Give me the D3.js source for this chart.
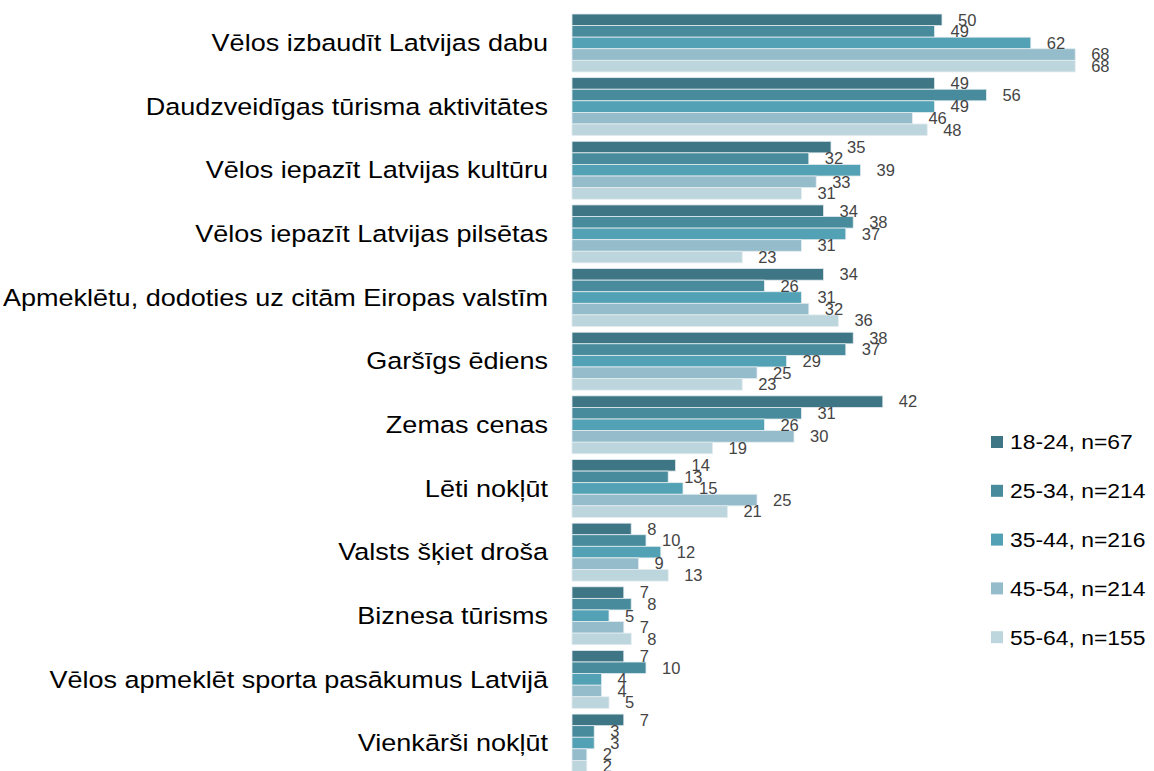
<!DOCTYPE html>
<html>
<head>
<meta charset="utf-8">
<script src="https://cdn.jsdelivr.net/npm/d3@7"></script>
<style>
  html, body { margin: 0; padding: 0; background: #fff; }
  svg { display: block; font-family: "Liberation Sans", Arial, sans-serif; }
</style>
</head>
<body>
<div class="container"></div>
<script>
const w = 1154;
const h = 771;

const categories = [
    'Vēlos izbaudīt Latvijas dabu',
    'Daudzveidīgas tūrisma aktivitātes',
    'Vēlos iepazīt Latvijas kultūru',
    'Vēlos iepazīt Latvijas pilsētas',
    'Apmeklētu, dodoties uz citām Eiropas valstīm',
    'Garšīgs ēdiens',
    'Zemas cenas',
    'Lēti nokļūt',
    'Valsts šķiet droša',
    'Biznesa tūrisms',
    'Vēlos apmeklēt sporta pasākumus Latvijā',
    'Vienkārši nokļūt'
];

const groups = ['18-24, n=67', '25-34, n=214', '35-44, n=216', '45-54, n=214', '55-64, n=155'];

const age18 = [50, 49, 35, 34, 34, 38, 42, 14, 8, 7, 7, 7];
const age25 = [49, 56, 32, 38, 26, 37, 31, 13, 10, 8, 10, 3];
const age35 = [62, 49, 39, 37, 31, 29, 26, 15, 12, 5, 4, 3];
const age45 = [68, 46, 33, 31, 32, 25, 30, 25, 9, 7, 4, 2];
const age55 = [68, 48, 31, 23, 36, 23, 19, 21, 13, 8, 5, 2];

const seriesValues = [age18, age25, age35, age45, age55];
const colors = ['#3e7686', '#488b9c', '#53a1b5', '#95bccb', '#bdd5dd'];

const svg = d3.select('.container')
    .append('svg')
    .attr('width', w)
    .attr('height', h);

const y = d3.scaleBand()
    .domain(categories)
    .range([14, 772])
    .paddingInner(0.09)
    .paddingOuter(0);

const ySub = d3.scaleBand()
    .domain(groups)
    .range([0, y.bandwidth()]);

const x = d3.scaleLinear()
    .domain([0, 70])
    .range([572, 572 + 70 * 7.4]);

const color = d3.scaleOrdinal(groups, colors);

// category labels (the original font runs a bit wide, so stretch it)
svg.append('g')
    .selectAll('text')
    .data(categories)
    .join('text')
    .attr('transform', d => `translate(548,${y(d) + y.bandwidth() / 2}) scale(1.15,1)`)
    .attr('dy', '0.35em')
    .attr('text-anchor', 'end')
    .style('font-size', '23.5px')
    .style('fill', '#000')
    .text(d => d);

// rows of bars, one group per category
const rows = categories.map((c, i) => ({
    cat: c,
    vals: groups.map((g, j) => ({ g: g, v: seriesValues[j][i] }))
}));

const row = svg.append('g')
    .selectAll('g')
    .data(rows)
    .join('g')
    .attr('transform', d => `translate(0,${y(d.cat)})`);

row.selectAll('rect')
    .data(d => d.vals)
    .join('rect')
    .attr('x', x(0))
    .attr('y', d => ySub(d.g))
    .attr('width', d => x(d.v) - x(0))
    .attr('height', ySub.bandwidth())
    .attr('fill', d => color(d.g))
    .attr('stroke', '#e3ecef')
    .attr('stroke-width', 0.8);

row.selectAll('text')
    .data(d => d.vals)
    .join('text')
    .attr('x', d => x(d.v) + 16)
    .attr('y', d => ySub(d.g) + ySub.bandwidth() / 2)
    .attr('dy', '0.35em')
    .style('font-size', '16.5px')
    .style('fill', '#444')
    .text(d => d.v);

// legend
const legend = svg.append('g')
    .selectAll('g')
    .data(groups)
    .join('g')
    .attr('transform', (d, i) => `translate(991,${442 + i * 48.8})`);

legend.append('rect')
    .attr('x', 0)
    .attr('y', -6)
    .attr('width', 12)
    .attr('height', 12)
    .attr('fill', d => color(d));

legend.append('text')
    .attr('transform', 'translate(19,0) scale(1.09,1)')
    .attr('dy', '0.35em')
    .style('font-size', '21px')
    .style('fill', '#000')
    .text(d => d);
</script>
</body>
</html>
